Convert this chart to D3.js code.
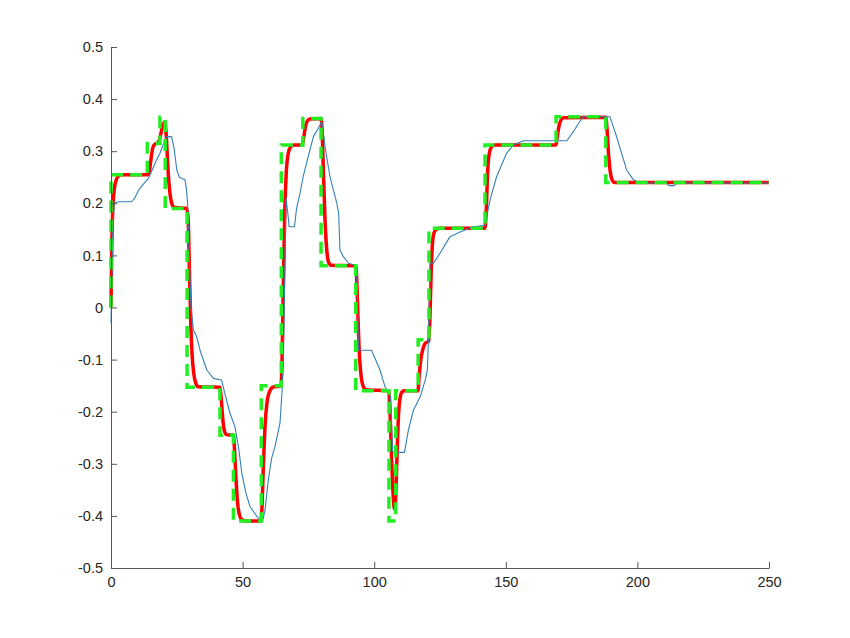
<!DOCTYPE html>
<html>
<head>
<meta charset="utf-8">
<script src="https://cdn.jsdelivr.net/npm/d3@7"></script>
<style>
  html, body { margin: 0; padding: 0; background: #fff; }
  svg { display: block; }
  .tick text { font-family: "Liberation Sans", Arial, Helvetica, sans-serif; font-size: 14.5px; fill: #262626; }
</style>
</head>
<body>
<svg id="chart" width="850" height="638"></svg>
<script>
// Tick values
const xTicks = [0, 50, 100, 150, 200, 250];
const yTicks = [-0.5, -0.4, -0.3, -0.2, -0.1, 0, 0.1, 0.2, 0.3, 0.4, 0.5];

// Green dashed reference (step signal): change times and levels (held until next time)
const refT = [0, 0, 13.8, 18.6, 20.6, 28.9, 41.4, 46.5, 57.1, 64.7, 72.9, 79.8, 93.0, 105.6, 108.2, 116.7, 120.8, 142.1, 169.1, 188.0, 250];
const refY = [0, 0.255, 0.315, 0.365, 0.19, -0.153, -0.245, -0.41, -0.15, 0.312, 0.363, 0.08, -0.16, -0.41, -0.16, -0.062, 0.152, 0.312, 0.366, 0.24, 0.24];

// Red thick smooth response
const redT = [0, 0.3, 0.7, 1.2, 2, 3, 4, 14, 14.6, 15.2, 15.8, 16.5, 17.8, 18.4, 19, 19.6, 20.2, 20.6, 21.0, 21.5, 22.0, 22.5, 23.2, 24,
  28.8, 29.3, 29.8, 30.3, 30.8, 31.4, 32.2, 33.2, 41.4, 41.8, 42.4, 43, 43.8, 46.5, 46.9, 47.5, 48.1, 48.8, 49.7, 51,
  57.0, 57.4, 57.9, 58.5, 59.2, 60.2, 61.5, 64.6, 65.0, 65.5, 66.0, 66.6, 67.3, 68.2, 69.5, 72.6, 73.2, 73.8, 74.5, 75.5,
  79.8, 80.2, 80.7, 81.3, 81.9, 82.6, 83.6, 93.0, 93.4, 93.9, 94.5, 95.1, 95.9, 97, 105.5, 106, 106.6, 107.2, 107.7, 108.2,
  108.7, 109.2, 109.8, 110.6, 111.5, 116.6, 117.1, 117.7, 118.5, 119.5, 120.7, 121.1, 121.6, 122.1, 122.7, 123.6, 125,
  142.1, 142.6, 143.1, 143.7, 144.5, 145.6, 169.1, 169.6, 170.3, 171, 172, 188, 188.5, 189.1, 189.7, 190.4, 191.4, 250];
const redY = [0, 0.12, 0.19, 0.225, 0.245, 0.253, 0.255, 0.255, 0.262, 0.285, 0.305, 0.313, 0.316, 0.322, 0.335, 0.348, 0.355, 0.352, 0.33, 0.28, 0.24, 0.215, 0.198, 0.192,
  0.19, 0.17, 0.07, -0.03, -0.09, -0.125, -0.145, -0.152, -0.153, -0.17, -0.21, -0.235, -0.244, -0.245, -0.27, -0.33, -0.375, -0.398, -0.407, -0.41,
  -0.41, -0.38, -0.30, -0.23, -0.185, -0.162, -0.153, -0.15, -0.10, 0.05, 0.18, 0.26, 0.295, 0.308, 0.312, 0.312, 0.325, 0.345, 0.357, 0.362,
  0.363, 0.34, 0.26, 0.17, 0.115, 0.088, 0.081, 0.08, 0.05, -0.03, -0.10, -0.135, -0.152, -0.158, -0.16, -0.2, -0.29, -0.36, -0.387, -0.36,
  -0.28, -0.21, -0.175, -0.162, -0.16, -0.16, -0.13, -0.10, -0.08, -0.068, -0.065, -0.03, 0.06, 0.12, 0.143, 0.15, 0.152,
  0.152, 0.19, 0.26, 0.295, 0.308, 0.312, 0.312, 0.33, 0.35, 0.36, 0.364, 0.365, 0.34, 0.29, 0.26, 0.245, 0.24, 0.24];

// Blue thin lagging response
const blueT = [0, 0.3, 0.7, 1.2, 3, 7.8, 9, 10.5, 12, 14.2, 15.5, 17, 18.6, 20, 21.2, 23, 24, 25, 26, 28.1, 28.6, 29.1, 29.7, 30.4, 31.3, 32.5, 34, 36.4, 38.9, 42,
  43.5, 45.2, 47.1, 48.5, 49.7, 51.2, 52.8, 56, 57.6, 58.5, 59.8, 61, 62.3, 64.2, 65, 65.5, 66, 66.5, 67.2, 67.7, 69.7, 70.5, 71.8, 73, 74.9, 76.9, 78.8, 80,
  80.5, 81.3, 83.2, 85.8, 86.5, 87, 88.3, 90.2, 93.3, 94, 99, 102.2, 104.1, 106.2, 107, 108.5, 111.5, 113, 114.9, 117.5, 119.4, 120.2, 120.6, 121.2, 122.5,
  125, 128.8, 132.6, 137.7, 142.1, 144, 146.5, 150.3, 152.9, 156.7, 173.2, 175.6, 178.1, 179.4, 189.6, 192.1, 194, 195.9, 198.5, 201, 211, 212, 214, 215, 250];
const blueY = [-0.03, 0.05, 0.15, 0.2, 0.203, 0.203, 0.21, 0.225, 0.235, 0.248, 0.262, 0.28, 0.296, 0.315, 0.328, 0.328, 0.305, 0.264, 0.25, 0.245, 0.23, 0.2, 0.1, 0.0, -0.043, -0.055, -0.085, -0.12, -0.136, -0.139,
  -0.17, -0.203, -0.229, -0.27, -0.318, -0.355, -0.382, -0.405, -0.41, -0.39, -0.33, -0.29, -0.267, -0.222, -0.16, -0.1, 0.05, 0.21, 0.18, 0.155, 0.155, 0.19, 0.219, 0.251, 0.289, 0.328, 0.344, 0.357,
  0.345, 0.309, 0.251, 0.2, 0.18, 0.11, 0.0975, 0.085, 0.08, -0.082, -0.082, -0.12, -0.152, -0.171, -0.277, -0.278, -0.278, -0.235, -0.197, -0.171, -0.139, -0.12, -0.062, 0.085, 0.085,
  0.104, 0.136, 0.145, 0.155, 0.158, 0.206, 0.251, 0.296, 0.312, 0.32, 0.32, 0.337, 0.357, 0.366, 0.366, 0.328, 0.296, 0.264, 0.245, 0.239, 0.239, 0.234, 0.234, 0.239, 0.239];

const svg = d3.select("#chart");
const margin = { left: 111, right: 81, top: 47, bottom: 70 };
const W = 850, H = 638;

const x = d3.scaleLinear().domain([0, 250]).range([margin.left, W - margin.right]);
const y = d3.scaleLinear().domain([-0.5, 0.5]).range([H - margin.bottom, margin.top]);

const zip = (ts, ys) => ts.map((t, i) => [t, ys[i]]);

const plot = svg.append("g");

// red smooth
plot.append("path")
  .datum(zip(redT, redY))
  .attr("fill", "none")
  .attr("stroke", "#ff0000")
  .attr("stroke-width", 3.5)
  .attr("stroke-linejoin", "round")
  .attr("d", d3.line().x(d => x(d[0])).y(d => y(d[1])).curve(d3.curveMonotoneX));

// blue thin
plot.append("path")
  .datum(zip(blueT, blueY))
  .attr("fill", "none")
  .attr("stroke", "#3380bb")
  .attr("stroke-width", 1.1)
  .attr("stroke-linejoin", "round")
  .attr("d", d3.line().x(d => x(d[0])).y(d => y(d[1])));

// green dashed step
plot.append("path")
  .datum(zip(refT, refY))
  .attr("fill", "none")
  .attr("stroke", "#22ee22")
  .attr("stroke-width", 3.5)
  .attr("stroke-dasharray", "12,7")
  .attr("d", d3.line().x(d => x(d[0])).y(d => y(d[1])).curve(d3.curveStepAfter));

// axes
const fmtY = d => d === 0 ? "0" : (d < 0 ? "-" : "") + Math.abs(d).toFixed(1);
const xAxis = d3.axisBottom(x).tickValues(xTicks).tickSizeInner(-6).tickSizeOuter(0).tickPadding(7).tickFormat(d3.format("d"));
const yAxis = d3.axisLeft(y).tickValues(yTicks).tickSizeInner(-6).tickSizeOuter(0).tickPadding(8).tickFormat(fmtY);

const gx = svg.append("g").attr("transform", `translate(0,${H - margin.bottom})`).call(xAxis);
const gy = svg.append("g").attr("transform", `translate(${margin.left},0)`).call(yAxis);

[gx, gy].forEach(g => {
  g.select(".domain").attr("stroke", "#555555").attr("stroke-width", 1);
  g.selectAll(".tick line").attr("stroke", "#555555").attr("stroke-width", 1);
});
gx.selectAll(".tick text").attr("dy", "0.8em");
</script>
</body>
</html>
